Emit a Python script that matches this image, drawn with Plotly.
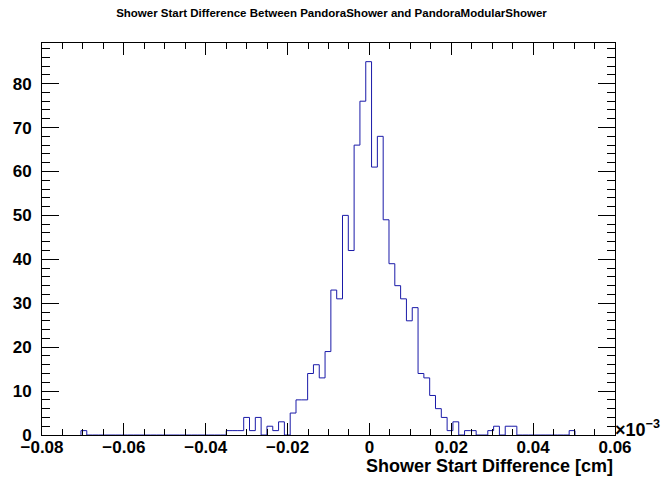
import plotly.graph_objects as go

# ---- data (x in units of 1e-3 cm) ----
bin_width = 0.00142
first_bin_low = -0.0009 - 49 * 0.00142   # lower edge of first listed bin
counts = (
    [1] + [0] * 24 +
    [1, 1, 1, 4, 1, 4, 0, 2, 1, 3, 0, 5, 8, 8, 14, 16, 13, 19, 33, 31, 50, 42, 66, 76] +
    [85, 61, 68, 49, 39, 34, 31, 26, 29, 14,
     13, 9, 6, 4, 1, 3, 0, 1, 1, 0,
     0, 1, 2, 0, 2, 2, 0, 0, 0, 0,
     0, 0, 0, 0, 0, 1]
)
x_ticks = [-0.08, -0.06, -0.04, -0.02, 0.0, 0.02, 0.04, 0.06]
x_ticktext = ["\u22120.08", "\u22120.06", "\u22120.04", "\u22120.02", "0", "0.02", "0.04", "0.06"]
y_ticks = [0, 10, 20, 30, 40, 50, 60, 70, 80]

title = "Shower Start Difference Between PandoraShower and PandoraModularShower"
x_title = "Shower Start Difference [cm]"

# ---- build step outline ----
edges = [first_bin_low + i * bin_width for i in range(len(counts) + 1)]
xs = [edges[0]] + edges
ys = [0] + counts + [0]

FONT = "Liberation Sans, Arial, sans-serif"
line_col = "#1a1aa8"

fig = go.Figure()
fig.add_trace(go.Scatter(x=xs, y=ys, mode="lines", line=dict(shape="hv", color=line_col, width=1),
                         hoverinfo="skip", showlegend=False))

ymax = max(counts) * 1.05

fig.update_layout(
    width=663, height=477,
    margin=dict(l=42, r=48, t=43, b=42),
    paper_bgcolor="white", plot_bgcolor="white",
    title=dict(text=title, x=0.5, xref="container", xanchor="center",
               y=1 - 13 / 477, yref="container", yanchor="middle",
               font=dict(family=FONT, size=11.5, color="black", weight="bold")),
    xaxis=dict(range=[-0.08, 0.06], tickvals=x_ticks, ticktext=x_ticktext,
               ticks="inside", ticklen=12, tickwidth=1, tickcolor="black",
               showline=True, linecolor="black", linewidth=1, mirror="ticks",
               showgrid=False, zeroline=False, ticklabelstandoff=-3,
               minor=dict(dtick=0.005, tick0=0, ticks="inside", ticklen=6, tickcolor="black", showgrid=False),
               tickfont=dict(family=FONT, size=17, color="black", weight="bold")),
    yaxis=dict(range=[0, ymax], tickvals=y_ticks,
               ticks="inside", ticklen=17, tickwidth=1, tickcolor="black",
               showline=True, linecolor="black", linewidth=1, mirror="ticks",
               showgrid=False, zeroline=False, ticklabelstandoff=6,
               minor=dict(dtick=2, tick0=0, ticks="inside", ticklen=8, tickcolor="black", showgrid=False),
               tickfont=dict(family=FONT, size=17, color="black", weight="bold")),
)

fig.add_annotation(text=x_title, xref="paper", yref="paper", x=1.0, y=-31 / 392,
                   xanchor="right", yanchor="middle", showarrow=False,
                   font=dict(family=FONT, size=18, color="black", weight="bold"))
fig.add_annotation(text="\u00d710<sup>\u22123</sup>", xref="paper", yref="paper", x=1.0, y=7 / 392,
                   xanchor="left", yanchor="middle", showarrow=False, xshift=-2,
                   font=dict(family=FONT, size=18, color="black", weight="bold"))

fig.write_html("out.html")
